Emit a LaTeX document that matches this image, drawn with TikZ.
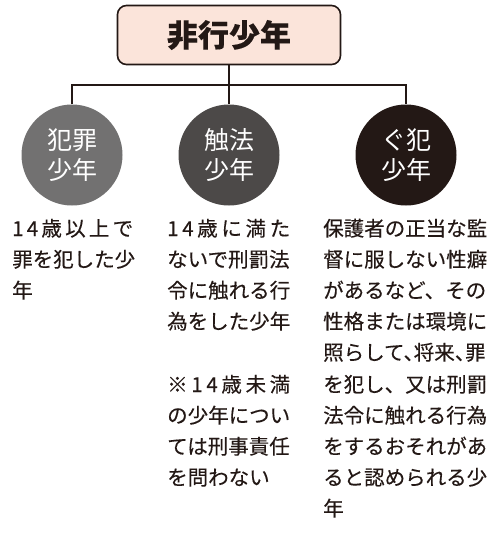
\documentclass[tikz,border=0pt]{standalone}
\usepackage{fontspec}
\setmainfont{Noto Sans CJK JP}[FakeBold=0.3]
\newfontfamily\halfpunct[RawFeature=+halt,FakeBold=0.3]{Noto Sans CJK JP}
\newfontfamily\thinjp{Noto Sans CJK JP}
\definecolor{ink}{HTML}{231815}
\definecolor{pinkfill}{HTML}{FBE4DA}
\definecolor{grayA}{HTML}{727171}
\definecolor{grayB}{HTML}{4C4948}
\definecolor{grayC}{HTML}{231815}
\tikzset{
  kind/.style={circle,minimum size=101pt,inner sep=0pt,text=white,align=center,
    font=\thinjp\fontsize{25}{30}\selectfont},
  body/.style={anchor=base west,inner sep=0pt,text=ink,font=\fontsize{20.5}{31}\selectfont},
  wire/.style={draw=ink,line width=1.3pt}
}
\newcommand{\spreadline}[2]{\makebox[#1][l]{#2}}
\begin{document}
\begin{tikzpicture}[x=1pt,y=-1pt]
\useasboundingbox (0,0) rectangle (500,533);

\node[draw=ink,line width=1.6pt,fill=pinkfill,rounded corners=9pt,minimum width=223pt,minimum height=59pt,
  font=\fontsize{31}{31}\selectfont\bfseries,text=ink] (top) at (229,35) {非行少年};

\node[kind,fill=grayA] (c1) at (72,155) {犯罪\\少年};
\node[kind,fill=grayB] (c2) at (229,155) {触法\\少年};
\node[kind,fill=grayC] (c3) at (406,155) {ぐ犯\\少年};

\coordinate (bus) at (229,85);
\draw[wire] (top.south) -- (bus);
\draw[wire] (c1.north) |- (bus) -| (c3.north);
\draw[wire] (bus) -- (c2.north);

% left column
\node[body] (a1) at (12,236) {\spreadline{121pt}{1\hfill 4\hfill 歳\hfill 以\hfill 上\hfill で}};
\node[body] (a2) at (12,267) {罪を犯した少};
\node[body] (a3) at (12,298) {年};

% middle column
\node[body] (b1) at (167,236) {\spreadline{123pt}{1\hfill 4\hfill 歳\hfill に\hfill 満\hfill た}};
\node[body] (b2) at (167,267) {ないで刑罰法};
\node[body] (b3) at (167,298) {令に触れる行};
\node[body] (b4) at (167,329) {為をした少年};
\node[body] (b5) at (167,392) {\spreadline{123pt}{※\hfill 1\hfill 4\hfill 歳\hfill 未\hfill 満}};
\node[body] (b6) at (167,423) {の少年につい};
\node[body] (b7) at (167,454) {ては刑事責任};
\node[body] (b8) at (167,485) {を問わない};

% right column
\node[body] (r1) at (323,236) {保護者の正当な監};
\node[body] (r2) at (323,267) {督に服しない性癖};
\node[body] (r3) at (323,298) {があるなど、その};
\node[body] (r4) at (323,329) {性格または環境に};
\node[body] (r5) at (323,360) {\halfpunct 照らして、将来、罪};
\node[body] (r6) at (323,392) {を犯し、又は刑罰};
\node[body] (r7) at (323,423) {法令に触れる行為};
\node[body] (r8) at (323,454) {をするおそれがあ};
\node[body] (r9) at (323,485) {ると認められる少};
\node[body] (r10) at (323,516) {年};
\end{tikzpicture}
\end{document}
